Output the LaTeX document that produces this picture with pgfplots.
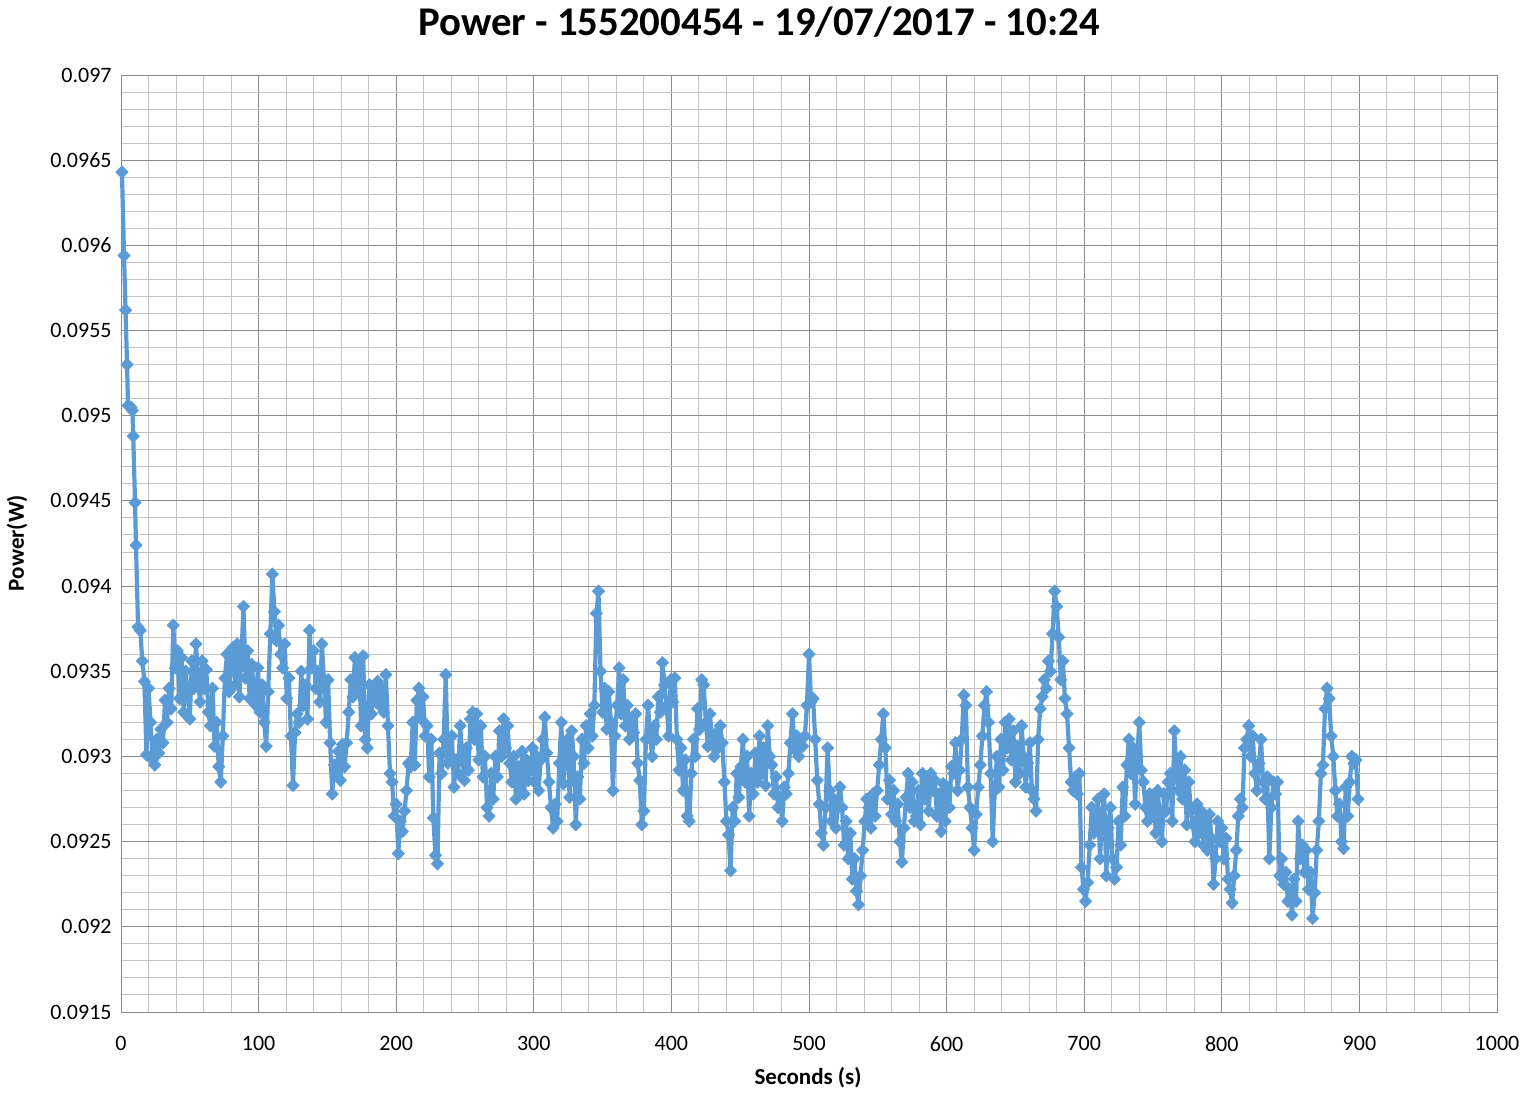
\documentclass[border=0pt]{standalone}
\usepackage{pgfplots}
\pgfplotsset{compat=1.18}
\usepackage{fontspec}
\setmainfont{Carlito}
\definecolor{series}{RGB}{91,155,213}
\definecolor{majgrid}{RGB}{140,140,140}
\definecolor{mingrid}{RGB}{195,195,195}
\begin{document}
\begin{tikzpicture}
\useasboundingbox (-60.5pt,-41pt) rectangle (701.5pt,506pt);
\begin{axis}[
 at={(0pt,0pt)}, anchor=south west,
 scale only axis, width=688pt, height=468.5pt,
 xmin=0, xmax=1000, ymin=0.0915, ymax=0.097,
 scaled x ticks=false, scaled y ticks=false,
 xtick={0,100,200,300,400,500,600,700,800,900,1000},
 xticklabels={0,100,200,300,400,500,600,700,800,900,1000},
 ytick={0.0915,0.092,0.0925,0.093,0.0935,0.094,0.0945,0.095,0.0955,0.096,0.0965,0.097},
 yticklabels={0.0915,0.092,0.0925,0.093,0.0935,0.094,0.0945,0.095,0.0955,0.096,0.0965,0.097},
 minor x tick num=4, minor y tick num=4,
 grid=both,
 major grid style={majgrid, line width=0.5pt},
 minor grid style={mingrid, line width=0.5pt},
 major tick length=0pt, minor tick length=0pt,
 axis line style={majgrid, line width=0.5pt},
 tick label style={font=\fontsize{11}{13}\selectfont, inner sep=0pt},
 xticklabel style={anchor=north, yshift=-12pt},
 yticklabel style={anchor=east, xshift=-4.5pt},
 xlabel={Seconds (s)},
 xlabel style={at={(axis description cs:0.4993,-0.0704)}, anchor=center, font=\fontsize{11.5}{14}\selectfont\bfseries},
 ylabel={Power(W)},
 ylabel style={at={(axis description cs:-0.0756,0.5005)}, anchor=center, font=\fontsize{11.5}{14}\selectfont\bfseries},
 clip=false,
]
\addplot[color=series, line width=2.1pt, line join=round, mark=diamond*, mark size=3.1pt,
 mark options={xscale=1.3, line width=0.4pt, solid, fill=series, draw=series}] coordinates {
(0.7,0.09643)(2.2,0.09594)(3.3,0.09562)(4.4,0.09530)(5.1,0.09506)(7.3,0.09505)(8.3,0.09503)(8.9,0.09488)(10.2,0.09449)(10.9,0.09424)(12.4,0.09376)
(14,0.09374)(15.5,0.09356)(17,0.09344)(18.5,0.09301)(20,0.09340)(21.5,0.09320)(23,0.09298)(24.5,0.09295)(26,0.09310)(27.5,0.09302)
(29,0.09316)(30.5,0.09308)(32,0.09333)(33.5,0.09320)(35,0.09340)(36.5,0.09328)(38,0.09377)(39.5,0.09352)(41,0.09362)(42.5,0.09334)
(44,0.09358)(45.5,0.09326)(47,0.09350)(48.5,0.09338)(50,0.09322)(51.5,0.09356)(53,0.09340)(54.5,0.09366)(56,0.09345)(57.5,0.09332)
(59,0.09356)(60.5,0.09340)(62,0.09351)(63.5,0.09326)(65,0.09318)(66.5,0.09340)(68,0.09306)(69.5,0.09320)(71,0.09294)(72.5,0.09285)
(74,0.09312)(75.5,0.09346)(77,0.09360)(78.5,0.09338)(80,0.09355)(81.5,0.09364)(83,0.09342)(84.5,0.09366)(86,0.09335)(87.5,0.09358)
(89,0.09388)(90.5,0.09346)(92,0.09362)(93.5,0.09334)(95,0.09354)(96.5,0.09340)(98,0.09330)(99.5,0.09352)(101,0.09326)(102.5,0.09342)
(104,0.09320)(105.5,0.09306)(107,0.09338)(108.5,0.09372)(110,0.09407)(111.5,0.09385)(113,0.09368)(114.5,0.09377)(116,0.09360)(117.5,0.09352)
(119,0.09366)(120.5,0.09334)(122,0.09346)(123.5,0.09312)(125,0.09283)(126.5,0.09314)(128,0.09325)(129.5,0.09320)(131,0.09350)(132.5,0.09330)
(134,0.09342)(135.5,0.09322)(137,0.09374)(138.5,0.09352)(140,0.09362)(141.5,0.09340)(143,0.09350)(144.5,0.09332)(146,0.09366)(147.5,0.09345)
(149,0.09320)(150.5,0.09345)(152,0.09308)(153.5,0.09278)(155,0.09295)(156.5,0.09290)(158,0.09303)(159.5,0.09286)(161,0.09307)(162.5,0.09294)
(164,0.09308)(165.5,0.09326)(167,0.09345)(168.5,0.09335)(170,0.09358)(171.5,0.09340)(173,0.09356)(174.5,0.09318)(176,0.09359)(177.5,0.09310)
(179,0.09305)(180.5,0.09342)(182,0.09325)(183.5,0.09338)(185,0.09332)(186.5,0.09344)(188,0.09330)(189.5,0.09340)(191,0.09326)(192.5,0.09348)
(194,0.09318)(195.5,0.09290)(197,0.09285)(198.5,0.09265)(200,0.09272)(201.5,0.09243)(203,0.09262)(204.5,0.09256)(206,0.09268)(207.5,0.09280)
(209,0.09296)(210.5,0.09294)(212,0.09320)(213.5,0.09295)(215,0.09333)(216.5,0.09340)(218,0.09322)(219.5,0.09335)(221,0.09312)(222.5,0.09318)
(224,0.09288)(225.5,0.09310)(227,0.09264)(228.5,0.09242)(230,0.09237)(231.5,0.09302)(233,0.09290)(234.5,0.09310)(236,0.09348)(237.5,0.09296)
(239,0.09300)(240.5,0.09312)(242,0.09282)(243.5,0.09298)(245,0.09290)(246.5,0.09318)(248,0.09300)(249.5,0.09286)(251,0.09305)(252.5,0.09292)
(254,0.09322)(255.5,0.09326)(257,0.09310)(258.5,0.09325)(260,0.09298)(261.5,0.09318)(263,0.09288)(264.5,0.09300)(266,0.09270)(267.5,0.09265)
(269,0.09290)(270.5,0.09275)(272,0.09300)(273.5,0.09288)(275,0.09315)(276.5,0.09300)(278,0.09322)(279.5,0.09305)(281,0.09318)(282.5,0.09296)
(284,0.09285)(285.5,0.09300)(287,0.09275)(288.5,0.09294)(290,0.09282)(291.5,0.09303)(293,0.09278)(294.5,0.09298)(296,0.09286)(297.5,0.09292)
(299,0.09305)(300.5,0.09285)(302,0.09300)(303.5,0.09280)(305,0.09298)(306.5,0.09310)(308,0.09323)(309.5,0.09302)(311,0.09285)(312.5,0.09270)
(314,0.09258)(315.5,0.09272)(317,0.09262)(318.5,0.09296)(320,0.09320)(321.5,0.09284)(323,0.09305)(324.5,0.09310)(326,0.09276)(327.5,0.09315)
(329,0.09300)(330.5,0.09260)(332,0.09288)(333.5,0.09275)(335,0.09310)(336.5,0.09296)(338,0.09318)(339.5,0.09305)(341,0.09325)(342.5,0.09312)
(344,0.09330)(345.5,0.09384)(347,0.09397)(348.5,0.09350)(350,0.09326)(351.5,0.09340)(353,0.09316)(354.5,0.09338)(356,0.09320)(357.5,0.09280)
(359,0.09312)(360.5,0.09330)(362,0.09352)(363.5,0.09325)(365,0.09345)(366.5,0.09318)(368,0.09330)(369.5,0.09310)(371,0.09322)(372.5,0.09314)
(374,0.09325)(375.5,0.09296)(377,0.09286)(378.5,0.09260)(380,0.09268)(381.5,0.09310)(383,0.09330)(384.5,0.09312)(386,0.09300)(387.5,0.09318)
(389,0.09310)(390.5,0.09335)(392,0.09326)(393.5,0.09355)(395,0.09342)(396.5,0.09330)(398,0.09312)(399.5,0.09345)(401,0.09332)(402.5,0.09346)
(404,0.09310)(405.5,0.09292)(407,0.09305)(408.5,0.09280)(410,0.09298)(411.5,0.09265)(413,0.09262)(414.5,0.09290)(416,0.09310)(417.5,0.09300)
(419,0.09328)(420.5,0.09316)(422,0.09345)(423.5,0.09342)(425,0.09320)(426.5,0.09306)(428,0.09325)(429.5,0.09310)(431,0.09300)(432.5,0.09314)
(434,0.09305)(435.5,0.09318)(437,0.09308)(438.5,0.09285)(440,0.09262)(441.5,0.09254)(443,0.09233)(444.5,0.09270)(446,0.09262)(447.5,0.09290)
(449,0.09276)(450.5,0.09294)(452,0.09310)(453.5,0.09285)(455,0.09300)(456.5,0.09265)(458,0.09290)(459.5,0.09278)(461,0.09302)(462.5,0.09285)
(464,0.09312)(465.5,0.09290)(467,0.09305)(468.5,0.09283)(470,0.09318)(471.5,0.09300)(473,0.09295)(474.5,0.09278)(476,0.09288)(477.5,0.09270)
(479,0.09276)(480.5,0.09262)(482,0.09282)(483.5,0.09278)(485,0.09290)(486.5,0.09308)(488,0.09325)(489.5,0.09304)(491,0.09312)(492.5,0.09300)
(494,0.09310)(495.5,0.09306)(497,0.09312)(498.5,0.09330)(500,0.09360)(501.5,0.09332)(503,0.09334)(504.5,0.09310)(506,0.09286)(507.5,0.09272)
(509,0.09255)(510.5,0.09248)(512,0.09270)(513.5,0.09305)(515,0.09280)(516.5,0.09262)(518,0.09275)(519.5,0.09258)(521,0.09270)(522.5,0.09282)
(524,0.09270)(525.5,0.09248)(527,0.09262)(528.5,0.09240)(530,0.09255)(531.5,0.09228)(533,0.09240)(534.5,0.09221)(536,0.09213)(537.5,0.09230)
(539,0.09245)(540.5,0.09262)(542,0.09275)(543.5,0.09270)(545,0.09258)(546.5,0.09278)(548,0.09265)(549.5,0.09280)(551,0.09295)(552.5,0.09310)
(554,0.09325)(555.5,0.09305)(557,0.09275)(558.5,0.09286)(560,0.09266)(561.5,0.09280)(563,0.09262)(564.5,0.09272)(566,0.09250)(567.5,0.09238)
(569,0.09258)(570.5,0.09276)(572,0.09290)(573.5,0.09270)(575,0.09285)(576.5,0.09262)(578,0.09265)(579.5,0.09280)(581,0.09260)(582.5,0.09290)
(584,0.09275)(585.5,0.09288)(587,0.09268)(588.5,0.09290)(590,0.09280)(591.5,0.09286)(593,0.09265)(594.5,0.09278)(596,0.09256)(597.5,0.09284)
(599,0.09262)(600.5,0.09282)(602,0.09270)(603.5,0.09294)(605,0.09290)(606.5,0.09308)(608,0.09280)(609.5,0.09292)(611,0.09310)(612.5,0.09336)
(614,0.09330)(615.5,0.09282)(617,0.09270)(618.5,0.09258)(620,0.09245)(621.5,0.09266)(623,0.09282)(624.5,0.09295)(626,0.09312)(627.5,0.09330)
(629,0.09338)(630.5,0.09320)(632,0.09290)(633.5,0.09250)(635,0.09280)(636.5,0.09300)(638,0.09282)(639.5,0.09310)(641,0.09292)(642.5,0.09320)
(644,0.09305)(645.5,0.09322)(647,0.09298)(648.5,0.09315)(650,0.09285)(651.5,0.09306)(653,0.09290)(654.5,0.09318)(656,0.09300)(657.5,0.09282)
(659,0.09296)(660.5,0.09308)(662,0.09280)(663.5,0.09275)(665,0.09268)(666.5,0.09310)(668,0.09328)(669.5,0.09335)(671,0.09345)(672.5,0.09340)
(674,0.09356)(675.5,0.09350)(677,0.09372)(678.5,0.09397)(680,0.09388)(681.5,0.09370)(683,0.09345)(684.5,0.09356)(686,0.09334)(687.5,0.09325)
(689,0.09305)(690.5,0.09285)(692,0.09280)(693.5,0.09288)(695,0.09278)(696.5,0.09290)(698,0.09235)(699.5,0.09222)(701,0.09215)(702.5,0.09226)
(704,0.09248)(705.5,0.09270)(707,0.09255)(708.5,0.09262)(710,0.09275)(711.5,0.09240)(713,0.09265)(714.5,0.09278)(716,0.09230)(717.5,0.09258)
(719,0.09270)(720.5,0.09240)(722,0.09228)(723.5,0.09235)(725,0.09262)(726.5,0.09248)(728,0.09282)(729.5,0.09265)(731,0.09295)(732.5,0.09310)
(734,0.09290)(735.5,0.09305)(737,0.09272)(738.5,0.09300)(740,0.09320)(741.5,0.09292)(743,0.09285)(744.5,0.09270)(746,0.09262)(747.5,0.09278)
(749,0.09265)(750.5,0.09275)(752,0.09255)(753.5,0.09280)(755,0.09262)(756.5,0.09250)(758,0.09278)(759.5,0.09268)(761,0.09285)(762.5,0.09290)
(764,0.09262)(765.5,0.09315)(767,0.09290)(768.5,0.09280)(770,0.09300)(771.5,0.09275)(773,0.09292)(774.5,0.09260)(776,0.09285)(777.5,0.09268)
(779,0.09260)(780.5,0.09250)(782,0.09272)(783.5,0.09255)(785,0.09268)(786.5,0.09248)(788,0.09262)(789.5,0.09245)(791,0.09266)(792.5,0.09252)
(794,0.09225)(795.5,0.09240)(797,0.09262)(798.5,0.09250)(800,0.09258)(801.5,0.09240)(803,0.09252)(804.5,0.09228)(806,0.09222)(807.5,0.09214)
(809,0.09230)(810.5,0.09245)(812,0.09265)(813.5,0.09275)(815,0.09270)(816.5,0.09305)(818,0.09310)(819.5,0.09318)(821,0.09300)(822.5,0.09312)
(824,0.09290)(825.5,0.09280)(827,0.09296)(828.5,0.09310)(830,0.09285)(831.5,0.09275)(833,0.09288)(834.5,0.09240)(836,0.09270)(837.5,0.09285)
(839,0.09278)(840.5,0.09285)(842,0.09230)(843.5,0.09240)(845,0.09225)(846.5,0.09232)(848,0.09215)(849.5,0.09222)(851,0.09207)(852.5,0.09228)
(854,0.09215)(855.5,0.09262)(857,0.09240)(858.5,0.09248)(860,0.09232)(861.5,0.09245)(863,0.09222)(864.5,0.09232)(866,0.09205)(867.5,0.09220)
(869,0.09245)(870.5,0.09262)(872,0.09290)(873.5,0.09295)(875,0.09328)(876.5,0.09340)(878,0.09334)(879.5,0.09312)(881,0.09300)(882.5,0.09280)
(884,0.09265)(885.5,0.09272)(887,0.09250)(888.5,0.09246)(890,0.09282)(891.5,0.09265)(893,0.09285)(894.5,0.09300)(896,0.09296)(897.5,0.09298)
(899,0.09275)
};
\end{axis}
\node[font=\fontsize{20.4}{24}\selectfont\bfseries] at (319pt,495pt) {Power - 155200454 - 19/07/2017 - 10:24};
\end{tikzpicture}
\end{document}
